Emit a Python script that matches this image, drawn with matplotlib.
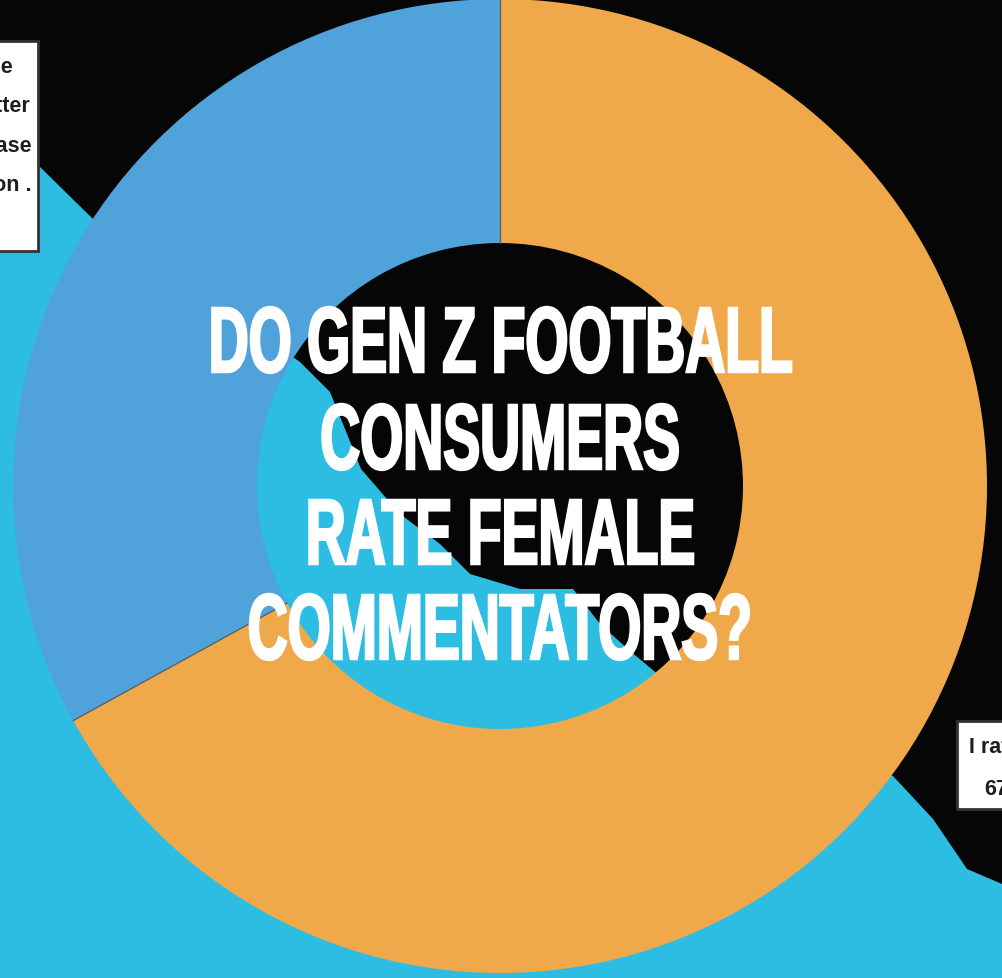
import matplotlib
matplotlib.use("Agg")
import numpy as np
import matplotlib.pyplot as plt
from matplotlib import patheffects
from matplotlib.patches import Polygon, Rectangle
from matplotlib.transforms import Affine2D

# survey answers (percent of respondents)
answers = ["I don't rate them", "I rate them"]
shares = [33, 67]
colors = ["#4fa2da", "#efa84a"]

title_lines = ["DO GEN Z FOOTBALL", "CONSUMERS", "RATE FEMALE", "COMMENTATORS?"]

left_label = ["I don't rate them as much as the male",
              "commentator, they can be better",
              "but not in every case",
              "that is my opinion .",
              "{}%".format(shares[0])]
right_label = ["I rate them", "{}%".format(shares[1])]

W, H = 1002, 979
fig = plt.figure(figsize=(W / 100, H / 100), dpi=100)
fig.patch.set_facecolor("#060606")
ax = fig.add_axes([0, 0, 1, 1])
ax.set_facecolor("#060606")


def Y(y):
    # pixel rows are counted from the top
    return H - y


# cyan paint splash behind the doughnut
edge = [(0, 135), (40, 168), (95, 222), (300, 363), (330, 393), (345, 430),
        (361, 470), (400, 515), (440, 545), (470, 575), (520, 590), (573, 590),
        (600, 625), (630, 652), (660, 677), (893, 777), (933, 820), (967, 870),
        (1002, 885), (1002, 979), (0, 979)]
ax.add_patch(Polygon([(x, Y(y)) for x, y in edge], closed=True,
                     facecolor="#2dbde3", edgecolor="none", zorder=0))

# doughnut
R, r_in = 487, 243
cx, cy = 500, Y(487)
ax.pie(shares, colors=colors, startangle=90, counterclock=True,
       center=(cx, cy), radius=R, frame=True,
       wedgeprops=dict(width=R - r_in, edgecolor="none"))

# thin grey seams between the slices
ang = 90 + 360 * np.cumsum([0] + shares[:-1]) / sum(shares)
for a in np.deg2rad(ang):
    ax.plot([cx + r_in * np.cos(a), cx + R * np.cos(a)],
            [cy + r_in * np.sin(a), cy + R * np.sin(a)],
            color="#5b5b5b", lw=0.9, zorder=2)

ax.set_xlim(0, W)
ax.set_ylim(0, H)
ax.set_aspect("auto")
ax.axis("off")

# label boxes (run off the edge of the poster)
lab_font = dict(fontsize=15.5, fontweight="bold",
                family=["Liberation Sans", "DejaVu Sans"], color="#1e1e1e", zorder=4)
ax.add_patch(Rectangle((-400, Y(252)), 438, 210, facecolor="white",
                       edgecolor="#333333", linewidth=2, zorder=3, clip_on=False))
ends = [13, 30, 32, 32, -60]
bases = [73, 112, 152, 191, 231]
for s, xr, yb in zip(left_label, ends, bases):
    ax.text(xr, Y(yb), s, ha="right", va="baseline", **lab_font)

ax.add_patch(Rectangle((957, Y(810)), 300, 88, facecolor="white",
                       edgecolor="#333333", linewidth=2, zorder=3, clip_on=False))
for s, xl, yb in zip(right_label, [969, 984], [753, 795]):
    ax.text(xl, Y(yb), s, ha="left", va="baseline", **lab_font)


class Squeeze(patheffects.AbstractPathEffect):
    """Narrow the glyphs about the centre of each line and fatten the strokes."""

    def __init__(self, sx, lw):
        super().__init__()
        self.sx = sx
        self.lw = lw

    def draw_path(self, renderer, gc, tpath, affine, rgbFace=None):
        ext = tpath.get_extents(affine)
        mid = (ext.x0 + ext.x1) / 2
        affine = affine + Affine2D().translate(-mid, 0).scale(self.sx, 1).translate(mid, 0)
        gc0 = renderer.new_gc()
        gc0.copy_properties(gc)
        gc0.set_linewidth(self.lw)
        gc0.set_foreground(rgbFace)
        gc0.set_joinstyle("miter")
        renderer.draw_path(gc0, tpath, affine, rgbFace)
        gc0.restore()


title_texts = []
for s, yb in zip(title_lines, [373, 470, 565, 660]):
    t = ax.text(500, Y(yb), s, ha="center", va="baseline", fontsize=67,
                fontweight="bold", color="white", zorder=5,
                family=["Liberation Sans Narrow", "Liberation Sans", "DejaVu Sans"])
    title_texts.append(t)

fig.canvas.draw()
w0 = title_texts[0].get_window_extent().width
for t in title_texts:
    t.set_path_effects([Squeeze(584 / w0, 1.8)])

fig.savefig("out.png", dpi=100, facecolor=fig.get_facecolor())
